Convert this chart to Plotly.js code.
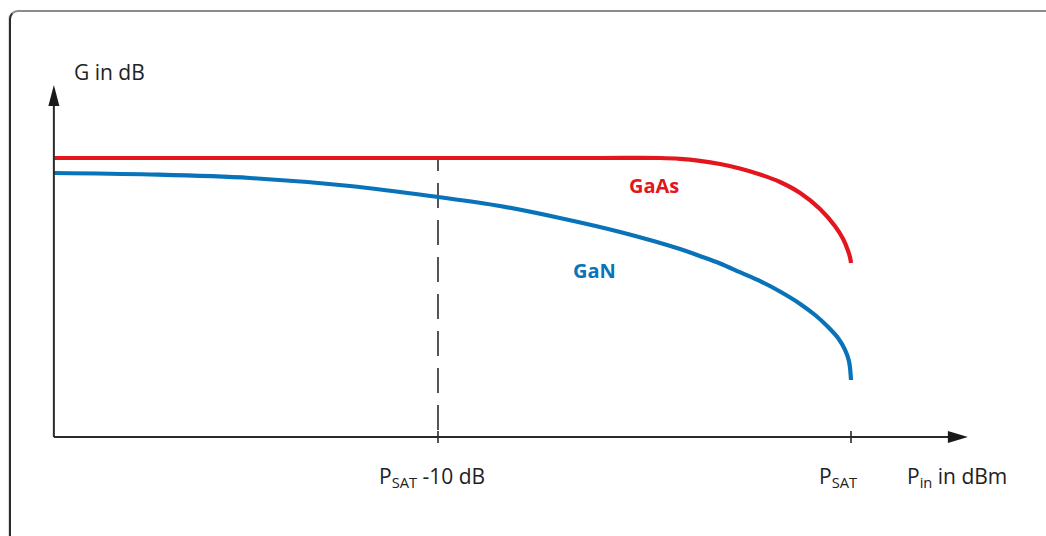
<!DOCTYPE html>
<html>
<head>
<meta charset="utf-8">
<script src="https://cdn.plot.ly/plotly-3.0.1.min.js"></script>
<style>
  html, body { margin: 0; padding: 0; background: #ffffff; }
  #wrap { position: relative; width: 1046px; height: 536px; overflow: hidden; background: #fff; }
  #frame { position: absolute; left: 9px; top: 10px; width: 1100px; height: 600px;
           border-top: 2px solid #8c8c8c; border-left: 2px solid #2a2a2a; border-top-left-radius: 9px;
           box-shadow: -1px 0 1px rgba(0,0,0,0.15); }
  #chart { position: absolute; left: 0; top: 0; width: 1046px; height: 536px; }
</style>
</head>
<body>
<div id="wrap">
  <div id="frame"></div>
  <div id="chart"></div>
</div>
<script>
// Input power relative to P_SAT (dB) and gain (arbitrary dB units)
const gaasPin  = [-19.3, -13.0, -8.0, -6.08, -4.62, -4.14, -3.66, -3.17, -2.69, -2.20, -1.72, -1.23, -0.75, -0.39, -0.19, -0.07, -0.02, 0];
const gaasGain = [27.9, 27.9, 27.9, 27.9, 27.9, 27.82, 27.62, 27.3, 26.85, 26.25, 25.5, 24.4, 22.8, 21.1, 19.8, 18.6, 17.9, 17.4];

const ganPin  = [-19.3, -16.97, -14.55, -12.13, -10, -8.50, -7.05, -5.59, -4.14, -3.66, -3.17, -2.69, -2.20, -1.72, -1.23, -0.87, -0.56, -0.31, -0.15, -0.05, 0];
const ganGain = [26.4, 26.25, 25.9, 25.1, 24.0, 23.1, 21.9, 20.5, 18.8, 18.1, 17.35, 16.48, 15.59, 14.55, 13.31, 12.2, 11.03, 9.88, 8.76, 7.6, 5.7];

// axis extents (origin, arrow tips) and view range
const xAxisEnd = [-19.3, 2.83];
const yAxisEnd = [0, 35.2];
const xView = [-20.12, 4.237];
const yView = [-6.3, 39.7];
const tickVals = [-10, 0];
const tickLabels = ['P<sub>SAT</sub> -10 dB', 'P<sub>SAT</sub>'];
const refLineTop = 27.9;
const refLineBottom = 0.7;

const red = '#e3161e';
const blue = '#0873b9';
const axisColor = '#2b2b2b';
const fontFam = '"Open Sans", "DejaVu Sans", sans-serif';

const traces = [
  { x: gaasPin, y: gaasGain, type: 'scatter', mode: 'lines', name: 'GaAs',
    line: { color: red, width: 4.2, shape: 'spline', smoothing: 1 }, hoverinfo: 'skip' },
  { x: ganPin, y: ganGain, type: 'scatter', mode: 'lines', name: 'GaN',
    line: { color: blue, width: 4.2, shape: 'spline', smoothing: 1 }, hoverinfo: 'skip' }
];

const shapes = [
  // dashed reference line at P_SAT - 10 dB
  { type: 'line', xref: 'x', yref: 'y', x0: tickVals[0], x1: tickVals[0], y0: refLineBottom, y1: refLineTop,
    line: { color: axisColor, width: 1.6, dash: '25px,12px' }, layer: 'below' },
  // x axis line
  { type: 'line', xref: 'x', yref: 'y', x0: xAxisEnd[0], x1: xAxisEnd[1] - 0.3, y0: 0, y1: 0,
    line: { color: axisColor, width: 2 } },
  // y axis line
  { type: 'line', xref: 'x', yref: 'y', x0: xAxisEnd[0], x1: xAxisEnd[0], y0: 0, y1: yAxisEnd[1] - 1.5,
    line: { color: axisColor, width: 2 } },
  // x arrowhead
  { type: 'path', xref: 'x', yref: 'y', xsizemode: 'pixel', ysizemode: 'pixel',
    xanchor: xAxisEnd[1], yanchor: 0, path: 'M-20,-6 L-20,6 L0,0 Z',
    fillcolor: '#1a1a1a', line: { width: 0 } },
  // y arrowhead
  { type: 'path', xref: 'x', yref: 'y', xsizemode: 'pixel', ysizemode: 'pixel',
    xanchor: xAxisEnd[0], yanchor: yAxisEnd[1], path: 'M-5.5,-21 L5.5,-21 L0,0 Z',
    fillcolor: '#1a1a1a', line: { width: 0 } }
];
tickVals.forEach(v => shapes.push({
  type: 'line', xref: 'x', yref: 'y', ysizemode: 'pixel', yanchor: 0,
  x0: v, x1: v, y0: -6, y1: 6, line: { color: axisColor, width: 1.6 }
}));

const labelFont = { family: fontFam, size: 21, color: '#222' };
const labelY = -4.0;
const annotations = [
  { xref: 'x', yref: 'y', x: xAxisEnd[0], y: 36.5, xanchor: 'left', yanchor: 'middle', xshift: 18,
    text: 'G in dB', showarrow: false, font: labelFont },
  { xref: 'x', yref: 'y', x: tickVals[0], y: labelY, xanchor: 'center', yanchor: 'middle', xshift: -6,
    text: tickLabels[0], showarrow: false, font: labelFont },
  { xref: 'x', yref: 'y', x: tickVals[1], y: labelY, xanchor: 'center', yanchor: 'middle', xshift: -13,
    text: tickLabels[1], showarrow: false, font: labelFont },
  { xref: 'x', yref: 'y', x: 2.57, y: labelY, xanchor: 'center', yanchor: 'middle',
    text: 'P<sub>in</sub> in dBm', showarrow: false, font: labelFont },
  { xref: 'x', yref: 'y', x: -4.77, y: 25.2, xanchor: 'center', yanchor: 'middle',
    text: '<b>GaAs</b>', showarrow: false, font: { family: fontFam, size: 20, color: red } },
  { xref: 'x', yref: 'y', x: -6.20, y: 16.7, xanchor: 'center', yanchor: 'middle',
    text: '<b>GaN</b>', showarrow: false, font: { family: fontFam, size: 20, color: blue } }
];

const layout = {
  width: 1046, height: 536,
  margin: { l: 20, r: 20, t: 40, b: 36, pad: 0 },
  paper_bgcolor: 'rgba(0,0,0,0)', plot_bgcolor: 'rgba(0,0,0,0)',
  showlegend: false,
  xaxis: { range: xView, showgrid: false, zeroline: false, showline: false, ticks: '',
           showticklabels: false, fixedrange: true },
  yaxis: { range: yView, showgrid: false, zeroline: false, showline: false, ticks: '',
           showticklabels: false, fixedrange: true },
  shapes: shapes,
  annotations: annotations,
  font: { family: fontFam }
};

Plotly.newPlot('chart', traces, layout, { displayModeBar: false, staticPlot: true });
</script>
</body>
</html>
